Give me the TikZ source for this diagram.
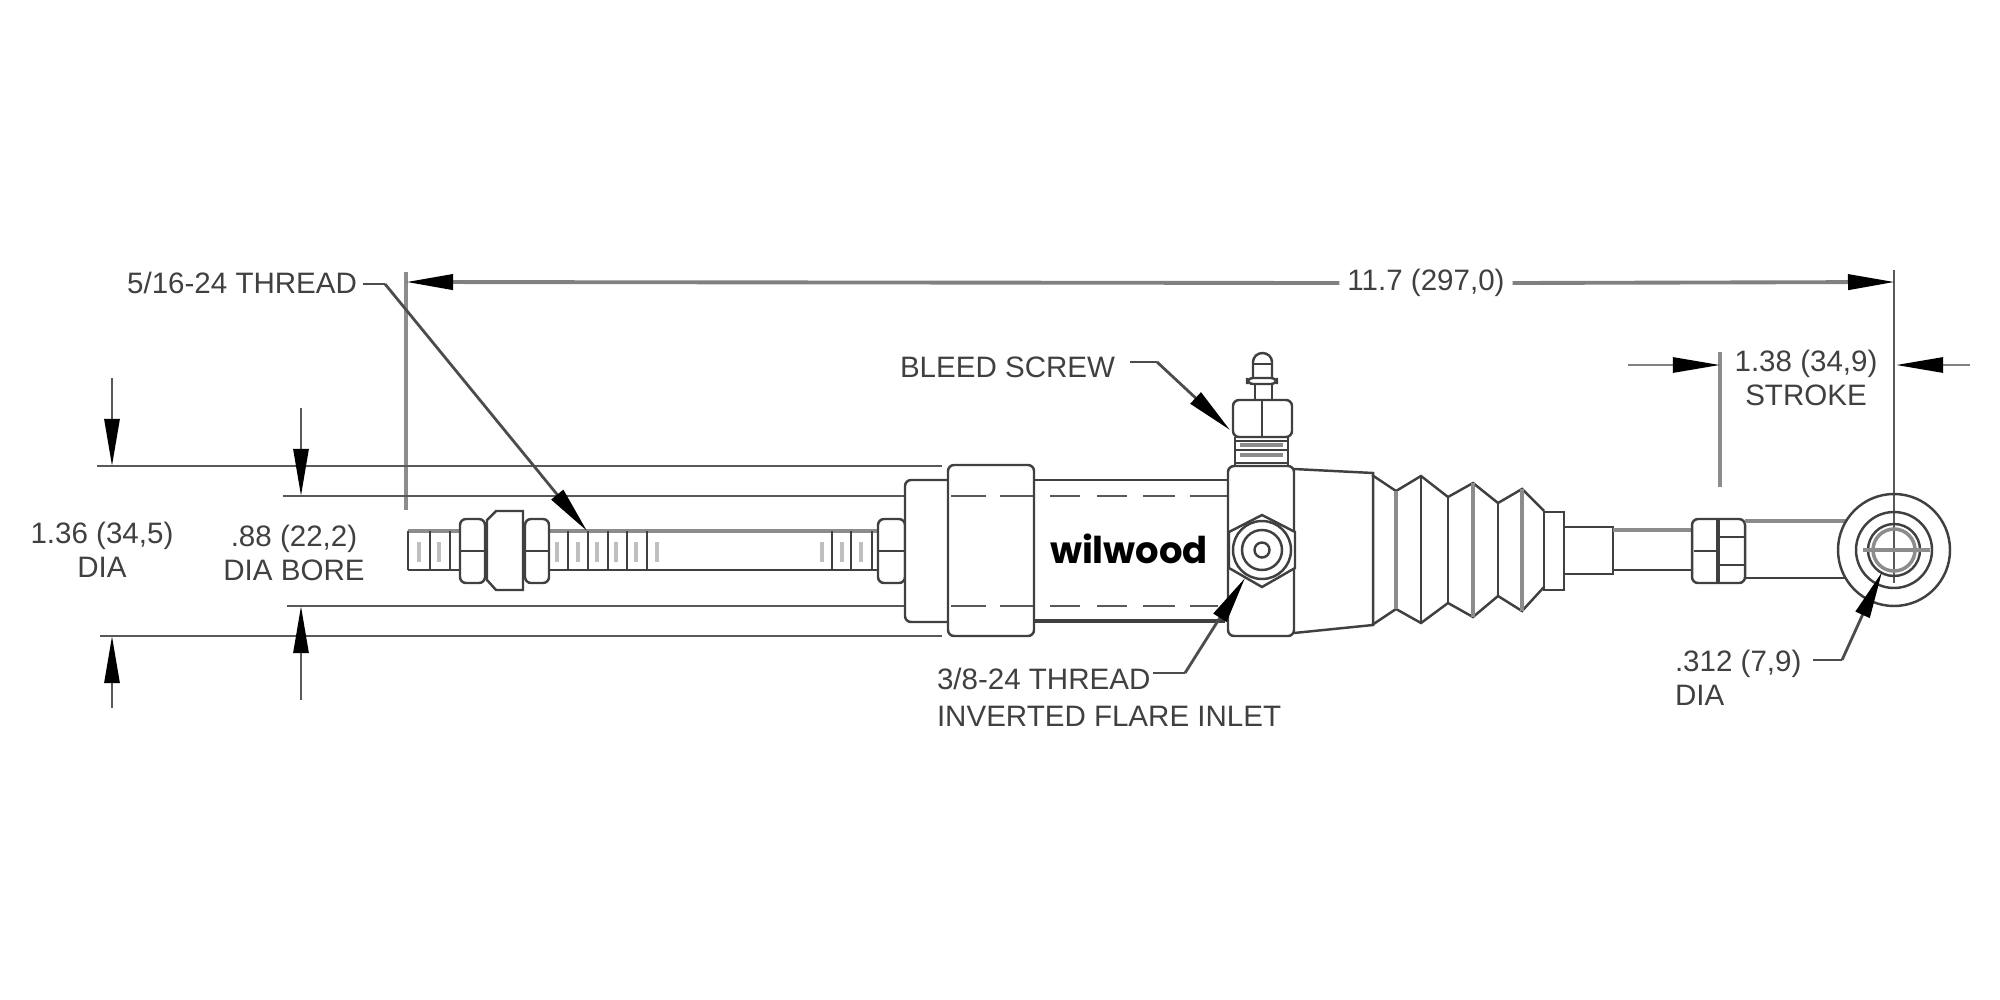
\documentclass[tikz,border=0pt]{standalone}
\usepackage{fontspec}
\setmainfont{Liberation Sans}
\newfontfamily\logofont{Poppins}
\usetikzlibrary{arrows.meta}
\begin{document}
\begin{tikzpicture}[x=0.01cm, y=-0.01cm,
  part line/.style={draw=black!75, line width=0.7pt},
  round part/.style={part line, rounded corners=0.6mm},
  soft line/.style={draw=black!45, line width=1pt},
  ext line/.style={draw=black!65, line width=0.8pt},
  hidden line/.style={draw=black!65, line width=0.8pt},
  dim arrow/.style={draw=black!65, line width=0.8pt, -{Triangle[length=4.7mm, width=1.5mm, color=black]}},
  leader/.style={draw=black!70, line width=0.7pt},
  dim text/.style={text=black!75, font=\fontsize{8.4}{9.6}\selectfont, inner sep=0.8mm, outer sep=0pt}]
\useasboundingbox (0,0) rectangle (2000,1000);

\draw[soft line] (406,272) -- (406,510);
\draw[ext line] (1894,270) -- (1894,583);
\draw[soft line] (1720,352) -- (1720,487);
\draw[ext line] (97,466) -- (942,466);
\draw[ext line] (283,496) -- (933,496);
\draw[ext line] (287,606) -- (933,606);
\draw[ext line] (100,636) -- (942,636);

\draw[soft line] (408,531) -- (878,531);
\draw[part line] (408,570) -- (878,570);
\foreach \x in {408,430,450,568,588,608,627,647,832,851,872}
  \draw[part line] (\x,531) -- (\x,570);
\foreach \x in {419,439,557,578,597,616,636,657,822,842,861}
  \draw[draw=black!25, line width=1pt] (\x,542) -- (\x,562);
\foreach \x/\w in {460/485,525/549,878/905} {
  \draw[round part, fill=white] (\x,519) rectangle (\w,583);
  \draw[part line] (\x,551) -- (\w,551);
}
\draw[part line, fill=white] (487,520) -- (496,511) -- (523,511) -- (523,590) -- (496,590) -- (487,580) -- cycle;

\draw[round part, fill=white] (948,480) -- (905,480) -- (905,622) -- (948,622);
\draw[part line] (1034,480) -- (1229,480);
\draw[part line, line width=1.3pt] (1034,621) -- (1225,621);
\foreach \y in {496,606} {
  \foreach \a/\b in {951/986,1000/1033,1050/1080,1097/1127,1143/1175}
    \draw[hidden line] (\a,\y) -- (\b,\y);
}
\draw[hidden line] (1190,496) -- (1227,496);
\draw[hidden line] (1190,606) -- (1218,606);
\draw[round part] (948,465) rectangle (1034,636);
\draw[round part] (1228,466) rectangle (1294,636);
\node[inner sep=0pt, font=\logofont\bfseries\fontsize{10.5}{12}\selectfont] (logo) at (1129,549) {wilwood};

\draw[part line] (1294,469) -- (1373,473) -- (1373,625) -- (1294,633);
\draw[part line] (1372,475) -- (1396,491) -- (1421,476) -- (1448,497) -- (1473,483) -- (1498,503) -- (1522,489) -- (1544,511);
\draw[part line] (1372,625) -- (1396,609) -- (1421,623) -- (1448,603) -- (1473,617) -- (1498,596) -- (1522,611) -- (1544,587);
\foreach \x/\t/\b in {1421/476/623,1448/497/603,1498/503/596}
  \draw[part line] (\x,\t) -- (\x,\b);
\foreach \x/\t/\b in {1396/491/609,1473/483/617,1522/489/611}
  \draw[soft line] (\x,\t) -- (\x,\b);
\draw[part line] (1544,512) rectangle (1564,590);
\draw[part line] (1564,527) rectangle (1613,574);
\draw[part line] (1613,570) -- (1692,570);
\draw[soft line] (1613,530) -- (1692,530);
\draw[round part] (1692,519) rectangle (1745,583);
\draw[part line, line width=1.2pt] (1718,519) -- (1718,583);
\draw[part line] (1694,551) -- (1718,551) (1718,537) -- (1745,537) (1718,565) -- (1745,565);
\draw[soft line] (1745,521) -- (1846,521);
\draw[part line] (1745,578) -- (1846,578);
\draw[part line] (1894,550) circle (56);
\draw[part line] (1894,550) circle (38);
\draw[part line] (1894,550) circle (26);
\draw[soft line] (1894,550) circle (21);
\draw[soft line] (1863,550) -- (1930,550);

\draw[round part] (1233,400) rectangle (1292,437);
\draw[part line] (1262,400) -- (1262,437);
\draw[part line] (1235,437) -- (1235,465) (1288,437) -- (1288,465);
\foreach \y in {441,450,463}
  \draw[part line] (1235,\y) -- (1288,\y);
\foreach \y in {445,455}
  \draw[soft line] (1240,\y) -- (1283,\y);
\draw[part line] (1255,400) -- (1255,384) (1272,400) -- (1272,384);
\draw[round part] (1247,378) rectangle (1277,384);
\draw[part line] (1253,378) -- (1253,362) arc[start angle=180, end angle=360, x radius=9.5, y radius=9] -- (1272,378);
\draw[part line] (1253,364) -- (1272,364);

\draw[part line, fill=white] (1262,515) -- (1295,532) -- (1295,568) -- (1262,587) -- (1229,568) -- (1229,532) -- cycle;
\draw[part line, fill=white] (1262,550) circle (29);
\draw[part line] (1262,550) circle (20);
\draw[part line] (1262,550) circle (7.5);

\node[dim text] (overall) at (1426,283) {11.7 (297,0)};
\coordinate (overall left) at (406,282);
\coordinate (overall right) at (1895,282);
\draw[dim arrow, draw=black!50, line width=1.1pt] (overall.west) -- (overall left);
\draw[dim arrow, draw=black!50, line width=1.1pt] (overall.east) -- (overall right);

\node[dim text, align=center] (stroke) at (1806,378) {1.38 (34,9)\\STROKE};
\coordinate (stroke left end) at (1628,365);
\coordinate (stroke left tip) at (1720,365);
\coordinate (stroke right end) at (1970,365);
\coordinate (stroke right tip) at (1896,365);
\draw[dim arrow, draw=black!50] (stroke left end) -- (stroke left tip);
\draw[dim arrow, draw=black!50] (stroke right end) -- (stroke right tip);

\node[dim text, align=center] (body dia) at (102,550) {1.36 (34,5)\\DIA};
\node[dim text, align=center] (bore dia) at (294,553) {.88 (22,2)\\DIA BORE};
\coordinate (body top end) at (112,378);
\coordinate (body top tip) at (112,466);
\coordinate (body low end) at (112,708);
\coordinate (body low tip) at (112,636);
\coordinate (bore top end) at (301,408);
\coordinate (bore top tip) at (301,496);
\coordinate (bore low end) at (301,700);
\coordinate (bore low tip) at (301,606);
\draw[dim arrow] (body top end) -- (body top tip);
\draw[dim arrow] (body low end) -- (body low tip);
\draw[dim arrow] (bore top end) -- (bore top tip);
\draw[dim arrow] (bore low end) -- (bore low tip);

\node[dim text, anchor=east, inner sep=0pt] (thread) at (357,283) {5/16-24 THREAD};
\coordinate (thread start) at (363,284);
\coordinate (thread bend) at (385,284);
\coordinate (thread tip) at (587,531);
\draw[leader] (thread start) -- (thread bend);
\draw[dim arrow, draw=black!70] (thread bend) -- (thread tip);

\node[dim text, anchor=west, inner sep=0pt] (bleed) at (900,367) {BLEED SCREW};
\coordinate (bleed start) at (1130,362);
\coordinate (bleed bend) at (1157,362);
\coordinate (bleed tip) at (1230,430);
\draw[leader] (bleed start) -- (bleed bend);
\draw[dim arrow, draw=black!70] (bleed bend) -- (bleed tip);

\node[dim text, anchor=west, inner sep=0pt, align=left] (inlet) at (937,697) {3/8-24 THREAD\\[0.9pt]INVERTED FLARE INLET};
\coordinate (inlet start) at (1153,673);
\coordinate (inlet bend) at (1185,673);
\coordinate (inlet tip) at (1245,578);
\draw[leader] (inlet start) -- (inlet bend);
\draw[dim arrow, draw=black!70] (inlet bend) -- (inlet tip);

\node[dim text, anchor=west, inner sep=0pt, align=left] (eye) at (1675,678) {.312 (7,9)\\DIA};
\coordinate (eye start) at (1813,660);
\coordinate (eye bend) at (1842,660);
\coordinate (eye tip) at (1882,572);
\draw[leader] (eye start) -- (eye bend);
\draw[dim arrow, draw=black!70] (eye bend) -- (eye tip);
\end{tikzpicture}
\end{document}
